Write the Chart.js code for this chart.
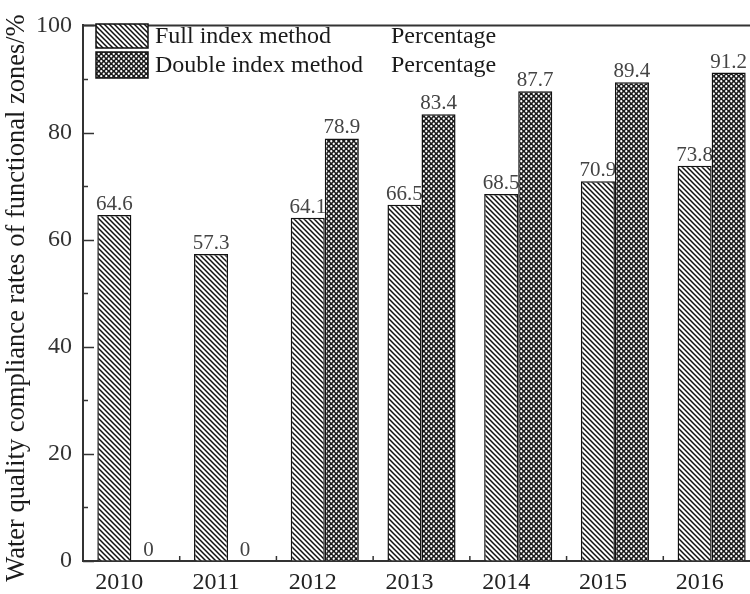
<!DOCTYPE html>
<html>
<head>
<meta charset="utf-8">
<script src="https://cdn.jsdelivr.net/npm/chart.js@4.4.1/dist/chart.umd.min.js"></script>
<style>
  html, body { margin: 0; padding: 0; background: #fff; overflow: hidden; }
  #wrap { position: absolute; left: 0; top: 0; width: 770px; height: 594px; }
</style>
</head>
<body>
<div id="wrap"><canvas id="myChart" width="770" height="594"></canvas></div>
<script>
const years = ['2010', '2011', '2012', '2013', '2014', '2015', '2016'];
const fullIndex = [64.6, 57.3, 64.1, 66.5, 68.5, 70.9, 73.8];
const doubleIndex = [0, 0, 78.9, 83.4, 87.7, 89.4, 91.2];
const seriesNames = ['Full index method', 'Double index method'];
const columnName = 'Percentage';
const yTitle = 'Water quality compliance rates of functional zones/%';

const serif = '"Liberation Serif", "Times New Roman", serif';
const canvas = document.getElementById('myChart');
const ctx = canvas.getContext('2d');

// diagonal "\\" hatch
function makeHatch() {
  const s = 5;
  const c = document.createElement('canvas');
  c.width = s; c.height = s;
  const g = c.getContext('2d');
  g.fillStyle = '#fff';
  g.fillRect(0, 0, s, s);
  g.strokeStyle = '#111';
  g.lineWidth = 1.5;
  g.beginPath();
  g.moveTo(-1, -1); g.lineTo(s + 1, s + 1);
  g.moveTo(-1, s - 1); g.lineTo(1, s + 1);
  g.moveTo(s - 1, -1); g.lineTo(s + 1, 1);
  g.stroke();
  return ctx.createPattern(c, 'repeat');
}

// dense crosshatch (dark with white dots)
function makeCross() {
  const s = 5;
  const c = document.createElement('canvas');
  c.width = s; c.height = s;
  const g = c.getContext('2d');
  g.fillStyle = '#1a1a1a';
  g.fillRect(0, 0, s, s);
  g.fillStyle = '#fff';
  [[1.25, 1.25], [3.75, 3.75]].forEach(([x, y]) => {
    g.beginPath();
    g.arc(x, y, 1.15, 0, Math.PI * 2);
    g.fill();
  });
  return ctx.createPattern(c, 'repeat');
}

const hatch = makeHatch();
const cross = makeCross();

function drawLabels(chart, idx) {
  const c = chart.ctx;
  const meta = chart.getDatasetMeta(idx);
  const vals = chart.data.datasets[idx].data;
  c.save();
  c.font = '21px ' + serif;
  c.fillStyle = '#444';
  c.textAlign = 'center';
  c.textBaseline = 'alphabetic';
  meta.data.forEach((bar, i) => {
    c.fillText(String(vals[i]), bar.x, bar.y - 5);
  });
  c.restore();
}

const decoPlugin = {
  id: 'deco',
  beforeDatasetsDraw(chart) {
    // full-index labels go under the neighbouring double bars
    drawLabels(chart, 0);
  },
  afterDatasetsDraw(chart) {
    drawLabels(chart, 1);
  },
  afterDraw(chart) {
    const c = chart.ctx;
    const area = chart.chartArea;
    const x = chart.scales.x;
    const y = chart.scales.y;
    c.save();
    c.strokeStyle = '#333';
    c.lineWidth = 2;
    // top frame line
    c.beginPath();
    c.moveTo(area.left, area.top);
    c.lineTo(chart.width, area.top);
    c.stroke();
    // inward y ticks
    c.lineWidth = 1.5;
    for (let v = 0; v <= 100; v += 10) {
      const py = Math.round(y.getPixelForValue(v)) + 0.5;
      const len = v % 20 === 0 ? 11 : 5;
      c.beginPath();
      c.moveTo(area.left, py);
      c.lineTo(area.left + len, py);
      c.stroke();
    }
    // small x ticks between groups
    for (let i = 0; i < years.length - 1; i++) {
      const px = (x.getPixelForValue(i) + x.getPixelForValue(i + 1)) / 2;
      c.beginPath();
      c.moveTo(px, area.bottom);
      c.lineTo(px, area.bottom - 5);
      c.stroke();
    }
    // legend
    const sw = [[96, 24, 52, 24], [96, 52, 52, 26]];
    const fills = [hatch, cross];
    c.font = '24px ' + serif;
    c.textBaseline = 'middle';
    c.textAlign = 'left';
    sw.forEach(([lx, ly, w, h], i) => {
      c.fillStyle = fills[i];
      c.fillRect(lx, ly, w, h);
      c.strokeStyle = '#111';
      c.lineWidth = 1.5;
      c.strokeRect(lx, ly, w, h);
      c.fillStyle = '#1a1a1a';
      c.fillText(seriesNames[i], 155, ly + h / 2 + 1);
      c.fillText(columnName, 391, ly + h / 2 + 1);
    });
    // y axis title
    c.font = '26.5px ' + serif;
    c.translate(17, 298);
    c.rotate(-Math.PI / 2);
    c.textAlign = 'center';
    c.fillText(yTitle, 0, 0);
    c.restore();
  }
};

new Chart(ctx, {
  type: 'bar',
  data: {
    labels: years,
    datasets: [
      {
        label: seriesNames[0],
        data: fullIndex,
        backgroundColor: hatch,
        borderColor: '#111',
        borderWidth: 1.5,
        borderSkipped: 'start'
      },
      {
        label: seriesNames[1],
        data: doubleIndex,
        backgroundColor: cross,
        borderColor: '#111',
        borderWidth: 1.5,
        borderSkipped: 'start'
      }
    ]
  },
  options: {
    responsive: false,
    animation: false,
    devicePixelRatio: 1,
    layout: { padding: { left: 0, right: 10, top: 17, bottom: 0 } },
    plugins: {
      legend: { display: false },
      tooltip: { enabled: false }
    },
    datasets: {
      bar: { categoryPercentage: 0.704, barPercentage: 1.0 }
    },
    scales: {
      x: {
        grid: { drawOnChartArea: false, drawTicks: false },
        border: { display: true, color: '#333', width: 2 },
        ticks: {
          font: { family: serif, size: 24 },
          color: '#222',
          padding: 7,
          labelOffset: -12,
          maxRotation: 0,
          autoSkip: false
        },
        afterFit(scale) { scale.height = 33; }
      },
      y: {
        min: 0,
        max: 100,
        grid: { drawOnChartArea: false, drawTicks: false },
        border: { display: true, color: '#333', width: 2 },
        ticks: {
          stepSize: 20,
          font: { family: serif, size: 24 },
          color: '#333',
          padding: 11
        },
        afterFit(scale) { scale.width = 83; }
      }
    }
  },
  plugins: [decoPlugin]
});
</script>
</body>
</html>
